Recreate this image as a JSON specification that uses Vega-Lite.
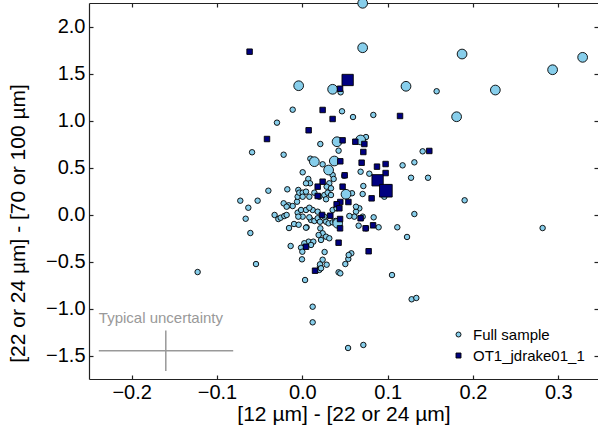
{
  "$schema": "https://vega.github.io/schema/vega-lite/v6.json",
  "width": 509,
  "height": 376,
  "autosize": {"type": "none"},
  "padding": {"left": 89, "top": 3, "right": 0, "bottom": 55},
  "config": {
    "font": "Liberation Sans",
    "view": {"stroke": null},
    "axis": {"grid": false, "domainColor": "#222222", "domainWidth": 1.2, "tickColor": "#222222", "tickWidth": 1.2, "tickSize": -4, "labelFontSize": 20, "labelColor": "black", "titleFontSize": 21, "titleFontWeight": "normal", "titleColor": "black", "labelFont": "Liberation Sans", "titleFont": "Liberation Sans"}
  },
  "datasets": {
    "pts": [
      {"x":-0.0113,"y":1.115,"sample":"Full sample","mag":1},{"x":0.0449,"y":1.300,"sample":"Full sample","mag":1},{"x":0.0465,"y":1.098,"sample":"Full sample","mag":1},{"x":0.0594,"y":1.037,"sample":"Full sample","mag":1},{"x":0.0832,"y":1.059,"sample":"Full sample","mag":1},{"x":-0.0297,"y":0.977,"sample":"Full sample","mag":1},{"x":0.0211,"y":0.750,"sample":"Full sample","mag":1},{"x":0.0746,"y":0.824,"sample":"Full sample","mag":1},{"x":-0.0589,"y":0.662,"sample":"Full sample","mag":1},{"x":-0.0219,"y":0.636,"sample":"Full sample","mag":1},{"x":0.0425,"y":0.679,"sample":"Full sample","mag":1},{"x":0.0094,"y":0.594,"sample":"Full sample","mag":1},{"x":0.0238,"y":0.534,"sample":"Full sample","mag":1},{"x":0.0355,"y":0.420,"sample":"Full sample","mag":1},{"x":0.0367,"y":0.378,"sample":"Full sample","mag":1},{"x":0.0004,"y":0.449,"sample":"Full sample","mag":1},{"x":0.0070,"y":0.378,"sample":"Full sample","mag":1},{"x":0.0090,"y":0.332,"sample":"Full sample","mag":1},{"x":-0.0398,"y":0.253,"sample":"Full sample","mag":1},{"x":-0.0176,"y":0.268,"sample":"Full sample","mag":1},{"x":-0.0047,"y":0.261,"sample":"Full sample","mag":1},{"x":0.0683,"y":0.455,"sample":"Full sample","mag":1},{"x":0.0785,"y":0.434,"sample":"Full sample","mag":1},{"x":0.0492,"y":0.413,"sample":"Full sample","mag":1},{"x":0.0961,"y":0.189,"sample":"Full sample","mag":1},{"x":0.0715,"y":0.303,"sample":"Full sample","mag":1},{"x":0.0707,"y":0.218,"sample":"Full sample","mag":1},{"x":0.0836,"y":-0.030,"sample":"Full sample","mag":1},{"x":0.0894,"y":-0.136,"sample":"Full sample","mag":1},{"x":0.1113,"y":-0.136,"sample":"Full sample","mag":1},{"x":0.0574,"y":-0.413,"sample":"Full sample","mag":1},{"x":0.0539,"y":-0.473,"sample":"Full sample","mag":1},{"x":0.0504,"y":-0.527,"sample":"Full sample","mag":1},{"x":0.0261,"y":-0.399,"sample":"Full sample","mag":1},{"x":0.0238,"y":-0.481,"sample":"Full sample","mag":1},{"x":0.0285,"y":-0.534,"sample":"Full sample","mag":1},{"x":-0.0015,"y":-0.353,"sample":"Full sample","mag":1},{"x":0.0000,"y":-0.396,"sample":"Full sample","mag":1},{"x":-0.0004,"y":-0.477,"sample":"Full sample","mag":1},{"x":-0.0137,"y":-0.335,"sample":"Full sample","mag":1},{"x":-0.0543,"y":-0.527,"sample":"Full sample","mag":1},{"x":-0.0609,"y":-0.197,"sample":"Full sample","mag":1},{"x":-0.0664,"y":-0.045,"sample":"Full sample","mag":1},{"x":-0.0727,"y":0.147,"sample":"Full sample","mag":1},{"x":-0.0633,"y":0.072,"sample":"Full sample","mag":1},{"x":-0.0524,"y":0.147,"sample":"Full sample","mag":1},{"x":-0.1227,"y":-0.612,"sample":"Full sample","mag":1},{"x":0.0199,"y":-0.590,"sample":"Full sample","mag":1},{"x":0.0207,"y":-0.555,"sample":"Full sample","mag":1},{"x":0.0032,"y":-0.697,"sample":"Full sample","mag":1},{"x":0.0425,"y":-0.615,"sample":"Full sample","mag":1},{"x":0.0445,"y":-0.626,"sample":"Full sample","mag":1},{"x":0.1051,"y":-0.644,"sample":"Full sample","mag":1},{"x":-0.0156,"y":-0.144,"sample":"Full sample","mag":1},{"x":-0.0097,"y":-0.101,"sample":"Full sample","mag":1},{"x":-0.0043,"y":-0.109,"sample":"Full sample","mag":1},{"x":0.0050,"y":-0.136,"sample":"Full sample","mag":1},{"x":-0.0325,"y":-0.005,"sample":"Full sample","mag":1},{"x":-0.0281,"y":-0.048,"sample":"Full sample","mag":1},{"x":-0.0254,"y":-0.034,"sample":"Full sample","mag":1},{"x":-0.0211,"y":-0.016,"sample":"Full sample","mag":1},{"x":-0.0184,"y":-0.005,"sample":"Full sample","mag":1},{"x":-0.0219,"y":0.119,"sample":"Full sample","mag":1},{"x":-0.0160,"y":0.098,"sample":"Full sample","mag":1},{"x":-0.0062,"y":0.136,"sample":"Full sample","mag":1},{"x":-0.0055,"y":0.189,"sample":"Full sample","mag":1},{"x":-0.0035,"y":0.232,"sample":"Full sample","mag":1},{"x":0.0004,"y":0.232,"sample":"Full sample","mag":1},{"x":-0.0055,"y":0.019,"sample":"Full sample","mag":1},{"x":-0.0015,"y":0.048,"sample":"Full sample","mag":1},{"x":0.0004,"y":-0.023,"sample":"Full sample","mag":1},{"x":0.0043,"y":0.332,"sample":"Full sample","mag":1},{"x":0.0316,"y":0.332,"sample":"Full sample","mag":1},{"x":0.0285,"y":0.296,"sample":"Full sample","mag":1},{"x":0.0336,"y":0.279,"sample":"Full sample","mag":1},{"x":0.0582,"y":0.226,"sample":"Full sample","mag":1},{"x":0.0043,"y":0.243,"sample":"Full sample","mag":1},{"x":0.0004,"y":0.189,"sample":"Full sample","mag":1},{"x":0.0082,"y":0.189,"sample":"Full sample","mag":1},{"x":0.0141,"y":0.232,"sample":"Full sample","mag":1},{"x":0.0199,"y":0.189,"sample":"Full sample","mag":1},{"x":0.0258,"y":0.207,"sample":"Full sample","mag":1},{"x":0.0297,"y":0.232,"sample":"Full sample","mag":1},{"x":0.0336,"y":0.207,"sample":"Full sample","mag":1},{"x":0.0278,"y":0.162,"sample":"Full sample","mag":1},{"x":0.0668,"y":0.066,"sample":"Full sample","mag":1},{"x":0.0629,"y":0.030,"sample":"Full sample","mag":1},{"x":0.0707,"y":-0.023,"sample":"Full sample","mag":1},{"x":0.0609,"y":-0.023,"sample":"Full sample","mag":1},{"x":0.0043,"y":-0.140,"sample":"Full sample","mag":1},{"x":0.0102,"y":-0.059,"sample":"Full sample","mag":1},{"x":0.0141,"y":-0.069,"sample":"Full sample","mag":1},{"x":0.0180,"y":-0.040,"sample":"Full sample","mag":1},{"x":0.0207,"y":-0.077,"sample":"Full sample","mag":1},{"x":0.0278,"y":-0.077,"sample":"Full sample","mag":1},{"x":0.0308,"y":-0.094,"sample":"Full sample","mag":1},{"x":0.0355,"y":-0.083,"sample":"Full sample","mag":1},{"x":0.0387,"y":-0.069,"sample":"Full sample","mag":1},{"x":0.0551,"y":-0.016,"sample":"Full sample","mag":1},{"x":0.0660,"y":-0.119,"sample":"Full sample","mag":1},{"x":0.0746,"y":-0.147,"sample":"Full sample","mag":1},{"x":0.0211,"y":-0.147,"sample":"Full sample","mag":1},{"x":0.0238,"y":-0.200,"sample":"Full sample","mag":1},{"x":0.0191,"y":-0.218,"sample":"Full sample","mag":1},{"x":0.0278,"y":-0.236,"sample":"Full sample","mag":1},{"x":0.0316,"y":-0.253,"sample":"Full sample","mag":1},{"x":0.0219,"y":-0.271,"sample":"Full sample","mag":1},{"x":0.0074,"y":-0.289,"sample":"Full sample","mag":1},{"x":0.0129,"y":-0.289,"sample":"Full sample","mag":1},{"x":0.0023,"y":-0.306,"sample":"Full sample","mag":1},{"x":0.0102,"y":-0.324,"sample":"Full sample","mag":1},{"x":0.0543,"y":-0.431,"sample":"Full sample","mag":1},{"x":0.0207,"y":-0.530,"sample":"Full sample","mag":1},{"x":0.0219,"y":-0.572,"sample":"Full sample","mag":1},{"x":0.0121,"y":-0.981,"sample":"Full sample","mag":1},{"x":0.0121,"y":-1.147,"sample":"Full sample","mag":1},{"x":0.1281,"y":-0.902,"sample":"Full sample","mag":1},{"x":0.1336,"y":-0.888,"sample":"Full sample","mag":1},{"x":0.0536,"y":-1.420,"sample":"Full sample","mag":1},{"x":0.0715,"y":-1.388,"sample":"Full sample","mag":1},{"x":0.1410,"y":0.672,"sample":"Full sample","mag":1},{"x":0.1175,"y":0.523,"sample":"Full sample","mag":1},{"x":0.1313,"y":0.555,"sample":"Full sample","mag":1},{"x":0.1274,"y":0.391,"sample":"Full sample","mag":1},{"x":0.1473,"y":0.391,"sample":"Full sample","mag":1},{"x":0.1902,"y":0.151,"sample":"Full sample","mag":1},{"x":0.1313,"y":0.005,"sample":"Full sample","mag":1},{"x":0.1227,"y":-0.239,"sample":"Full sample","mag":1},{"x":0.2816,"y":-0.144,"sample":"Full sample","mag":1},{"x":0.1574,"y":1.311,"sample":"Full sample","mag":1},{"x":-0.0047,"y":-0.023,"sample":"Full sample","mag":1},{"x":-0.0184,"y":0.083,"sample":"Full sample","mag":1},{"x":-0.0113,"y":0.090,"sample":"Full sample","mag":1},{"x":0.0043,"y":0.048,"sample":"Full sample","mag":1},{"x":0.0121,"y":0.048,"sample":"Full sample","mag":1},{"x":0.0180,"y":0.030,"sample":"Full sample","mag":1},{"x":0.0082,"y":0.072,"sample":"Full sample","mag":1},{"x":0.0082,"y":-0.030,"sample":"Full sample","mag":1},{"x":0.0258,"y":-0.023,"sample":"Full sample","mag":1},{"x":0.0355,"y":0.048,"sample":"Full sample","mag":1},{"x":0.0402,"y":0.066,"sample":"Full sample","mag":1},{"x":0.0629,"y":0.083,"sample":"Full sample","mag":1},
      {"x":-0.0043,"y":1.370,"sample":"Full sample","mag":2},{"x":0.0355,"y":1.332,"sample":"Full sample","mag":2},{"x":0.0407,"y":0.774,"sample":"Full sample","mag":2},{"x":0.0141,"y":0.562,"sample":"Full sample","mag":2},{"x":0.0375,"y":0.569,"sample":"Full sample","mag":2},{"x":0.0308,"y":0.473,"sample":"Full sample","mag":2},{"x":0.0683,"y":0.793,"sample":"Full sample","mag":2},{"x":0.0512,"y":0.215,"sample":"Full sample","mag":2},{"x":0.0707,"y":2.247,"sample":"Full sample","mag":2},{"x":0.0707,"y":1.774,"sample":"Full sample","mag":2},{"x":0.1872,"y":1.707,"sample":"Full sample","mag":2},{"x":0.3285,"y":1.672,"sample":"Full sample","mag":2},{"x":0.2933,"y":1.540,"sample":"Full sample","mag":2},{"x":0.1215,"y":1.364,"sample":"Full sample","mag":2},{"x":0.2262,"y":1.324,"sample":"Full sample","mag":2},{"x":0.1808,"y":1.040,"sample":"Full sample","mag":2},{"x":0.0414,"y":-0.094,"sample":"Full sample","mag":2},
      {"x":-0.0618,"y":1.732,"sample":"OT1_jdrake01_1","mag":1},{"x":0.0442,"y":1.338,"sample":"OT1_jdrake01_1","mag":1},{"x":0.0238,"y":1.112,"sample":"OT1_jdrake01_1","mag":1},{"x":0.0355,"y":1.016,"sample":"OT1_jdrake01_1","mag":1},{"x":0.0074,"y":0.896,"sample":"OT1_jdrake01_1","mag":1},{"x":-0.0414,"y":0.803,"sample":"OT1_jdrake01_1","mag":1},{"x":0.1145,"y":1.048,"sample":"OT1_jdrake01_1","mag":1},{"x":0.0472,"y":0.789,"sample":"OT1_jdrake01_1","mag":1},{"x":0.0621,"y":0.774,"sample":"OT1_jdrake01_1","mag":1},{"x":0.0727,"y":0.750,"sample":"OT1_jdrake01_1","mag":1},{"x":0.0715,"y":0.665,"sample":"OT1_jdrake01_1","mag":1},{"x":0.0445,"y":0.566,"sample":"OT1_jdrake01_1","mag":1},{"x":0.0695,"y":0.551,"sample":"OT1_jdrake01_1","mag":1},{"x":0.0875,"y":0.509,"sample":"OT1_jdrake01_1","mag":1},{"x":0.0976,"y":0.537,"sample":"OT1_jdrake01_1","mag":1},{"x":0.0976,"y":0.441,"sample":"OT1_jdrake01_1","mag":1},{"x":0.0496,"y":0.417,"sample":"OT1_jdrake01_1","mag":1},{"x":0.1004,"y":0.287,"sample":"OT1_jdrake01_1","mag":1},{"x":0.0812,"y":0.172,"sample":"OT1_jdrake01_1","mag":1},{"x":0.0829,"y":-0.115,"sample":"OT1_jdrake01_1","mag":1},{"x":0.0742,"y":-0.147,"sample":"OT1_jdrake01_1","mag":1},{"x":0.0683,"y":-0.040,"sample":"OT1_jdrake01_1","mag":1},{"x":0.0425,"y":-0.300,"sample":"OT1_jdrake01_1","mag":1},{"x":0.0777,"y":-0.391,"sample":"OT1_jdrake01_1","mag":1},{"x":0.0043,"y":-0.343,"sample":"OT1_jdrake01_1","mag":1},{"x":0.0149,"y":-0.598,"sample":"OT1_jdrake01_1","mag":1},{"x":0.1488,"y":0.676,"sample":"OT1_jdrake01_1","mag":1},{"x":0.0238,"y":0.349,"sample":"OT1_jdrake01_1","mag":1},{"x":0.0180,"y":0.296,"sample":"OT1_jdrake01_1","mag":1},{"x":0.0472,"y":0.296,"sample":"OT1_jdrake01_1","mag":1},{"x":0.0445,"y":0.133,"sample":"OT1_jdrake01_1","mag":1},{"x":0.0540,"y":0.133,"sample":"OT1_jdrake01_1","mag":1},{"x":0.0402,"y":0.109,"sample":"OT1_jdrake01_1","mag":1},{"x":0.0434,"y":0.066,"sample":"OT1_jdrake01_1","mag":1},{"x":0.0231,"y":-0.005,"sample":"OT1_jdrake01_1","mag":1},{"x":0.0328,"y":-0.013,"sample":"OT1_jdrake01_1","mag":1},{"x":0.0442,"y":-0.048,"sample":"OT1_jdrake01_1","mag":1},{"x":0.0442,"y":-0.147,"sample":"OT1_jdrake01_1","mag":1},{"x":0.0180,"y":0.197,"sample":"OT1_jdrake01_1","mag":1},
      {"x":0.0531,"y":1.431,"sample":"OT1_jdrake01_1","mag":2.5},{"x":0.0882,"y":0.364,"sample":"OT1_jdrake01_1","mag":2.5},{"x":0.0979,"y":0.253,"sample":"OT1_jdrake01_1","mag":3}
    ],
    "unc": [
      {"xlo": -0.2385, "xhi": -0.081, "xc": -0.16, "yc": -1.45, "ylo": -1.666, "yhi": -1.234, "label": "Typical uncertainty", "tx": -0.2385, "ty": -1.155}
    ]
  },
  "layer": [
    {
      "data": {"name": "pts"},
      "mark": {"type": "point", "filled": true, "stroke": "black", "strokeWidth": 0.9, "opacity": 1},
      "encoding": {
        "x": {"field": "x", "type": "quantitative", "scale": {"domain": [-0.25, 0.3465], "nice": false, "zero": false},
              "axis": {"orient": "bottom", "values": [-0.2, -0.1, 0, 0.1, 0.2, 0.3], "format": ".1f", "title": "[12 µm] - [22 or 24 µm]", "labelPadding": 7, "titleY": 35, "titleBaseline": "middle"}},
        "y": {"field": "y", "type": "quantitative", "scale": {"domain": [-1.75, 2.25], "nice": false, "zero": false},
              "axis": {"orient": "left", "values": [-1.5, -1, -0.5, 0, 0.5, 1, 1.5, 2], "format": ".1f", "title": "[22 or 24 µm] - [70 or 100 µm]", "labelPadding": 8, "titleX": -71, "titleY": 220, "titleBaseline": "middle"}},
        "color": {"field": "sample", "type": "nominal", "scale": {"domain": ["Full sample", "OT1_jdrake01_1"], "range": ["#87ceeb", "#000080"]},
                  "legend": {"orient": "none", "legendX": 362, "legendY": 324, "title": null, "labelFontSize": 15, "labelColor": "black", "symbolSize": 25, "symbolStrokeColor": "black", "symbolStrokeWidth": 0.9, "padding": 0, "rowPadding": 5, "labelOffset": 7}},
        "shape": {"field": "sample", "type": "nominal", "scale": {"domain": ["Full sample", "OT1_jdrake01_1"], "range": ["circle", "square"]},
                  "legend": {"orient": "none", "legendX": 362, "legendY": 324, "title": null, "labelFontSize": 15, "labelColor": "black", "symbolSize": 25, "symbolStrokeColor": "black", "symbolStrokeWidth": 0.9, "padding": 0, "rowPadding": 5, "labelOffset": 7}},
        "size": {"field": "mag", "type": "quantitative", "scale": {"domain": [1, 3], "range": [30, 160]}, "legend": null}
      }
    },
    {
      "data": {"name": "unc"},
      "mark": {"type": "rule", "color": "#999999", "strokeWidth": 1.5},
      "encoding": {
        "x": {"field": "xlo", "type": "quantitative", "axis": {"orient": "top", "labels": false, "title": null, "values": [-0.2, -0.1, 0, 0.1, 0.2, 0.3]}},
        "x2": {"field": "xhi"},
        "y": {"field": "yc", "type": "quantitative", "axis": {"orient": "right", "labels": false, "title": null, "domain": false, "values": [-1.5, -1, -0.5, 0, 0.5, 1, 1.5, 2]}}
      }
    },
    {
      "data": {"name": "unc"},
      "mark": {"type": "rule", "color": "#999999", "strokeWidth": 1.5},
      "encoding": {
        "x": {"field": "xc", "type": "quantitative", "axis": null},
        "y": {"field": "ylo", "type": "quantitative", "axis": null},
        "y2": {"field": "yhi"}
      }
    },
    {
      "data": {"name": "unc"},
      "mark": {"type": "text", "color": "#999999", "fontSize": 15, "align": "left", "baseline": "alphabetic"},
      "encoding": {
        "x": {"field": "tx", "type": "quantitative", "axis": null},
        "y": {"field": "ty", "type": "quantitative", "axis": null},
        "text": {"field": "label"}
      }
    }
  ],
  "resolve": {"axis": {"x": "independent", "y": "independent"}}
}
